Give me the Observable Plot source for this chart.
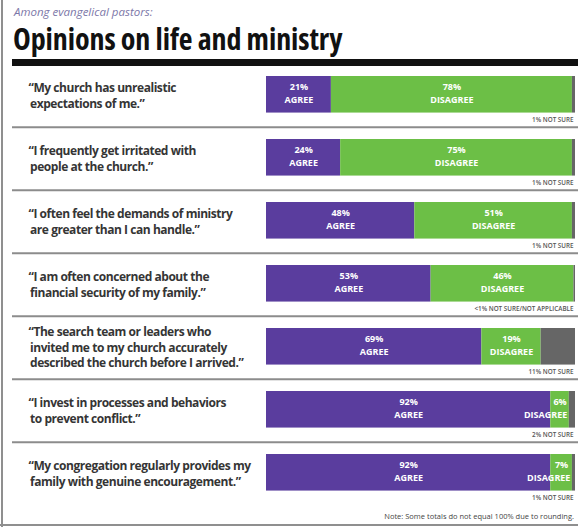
<!DOCTYPE html>
<html>
<head>
<meta charset="utf-8">
<script src="https://cdn.jsdelivr.net/npm/d3@7"></script>
<script src="https://cdn.jsdelivr.net/npm/@observablehq/plot@0.6"></script>
<style>
  html, body { margin: 0; padding: 0; background: #fff; }
  #wrap { position: relative; width: 578px; height: 527px; overflow: hidden; font-family: "Open Sans", sans-serif; }
  #lborder { position: absolute; left: 1px; top: 0; width: 2px; height: 527px; background: #8f8f8f; }
  #bborder { position: absolute; left: 0; top: 524px; width: 578px; height: 2px; background: #8f8f8f; }
  #sub { position: absolute; left: 14px; top: 4px; font-size: 11.5px; font-style: italic; color: #7c77a8; white-space: nowrap; }
  #title { position: absolute; left: 13px; top: 20px; font-size: 30px; font-weight: 700; color: #111; letter-spacing: -0.1px; font-stretch: 80%; white-space: nowrap; line-height: 37px; }
  #rule { position: absolute; left: 12px; top: 59px; width: 566px; height: 7px; background: #111; }
  #chart { position: absolute; left: 0; top: 66px; }
  #foot { position: absolute; right: 4px; top: 511px; font-size: 7.5px; color: #444; white-space: nowrap; }
  .qlab text { letter-spacing: -0.45px; }
</style>
</head>
<body>
<div id="wrap">
  <div id="lborder"></div>
  <div id="sub">Among evangelical pastors:</div>
  <div id="title">Opinions on life and ministry</div>
  <div id="rule"></div>
  <div id="chart"></div>
  <div id="foot">Note: Some totals do not equal 100% due to rounding.</div>
  <div id="bborder"></div>
</div>
<script>
const questions = [
  "\u201CMy church has unrealistic\n\u2009expectations of me.\u201D",
  "\u201CI frequently get irritated with\n\u2009people at the church.\u201D",
  "\u201CI often feel the demands of ministry\n\u2009are greater than I can handle.\u201D",
  "\u201CI am often concerned about the\n\u2009financial security of my family.\u201D",
  "\u201CThe search team or leaders who\n\u2009invited me to my church accurately\n\u2009described the church before I arrived.\u201D",
  "\u201CI invest in processes and behaviors\n\u2009to prevent conflict.\u201D",
  "\u201CMy congregation regularly provides my\n\u2009family with genuine encouragement.\u201D"
];
const agree    = [21, 24, 48, 53, 69, 92, 92];
const disagree = [78, 75, 51, 46, 19, 6, 7];
const notSure  = [1, 1, 1, 0.5, 11, 2, 1];
const notes = ["1% NOT SURE", "1% NOT SURE", "1% NOT SURE", "<1% NOT SURE/NOT APPLICABLE",
               "11% NOT SURE", "2% NOT SURE", "1% NOT SURE"];
const answers = ["AGREE", "DISAGREE", "NOT SURE"];
const colors = ["#5a3d9e", "#6cbf46", "#666666"];

const segs = [];
const labels = [];
questions.forEach((q, i) => {
  const vals = [agree[i], disagree[i], notSure[i]];
  const total = vals[0] + vals[1] + vals[2];
  let cum = 0;
  vals.forEach((v, j) => {
    segs.push({q, answer: answers[j], value: v});
    const start = cum / total, end = (cum + v) / total;
    cum += v;
    if (j < 2) {
      const narrow = v < 10;
      labels.push({
        q, pct: v + "%", word: answers[j],
        mid: (start + end) / 2,
        wx: narrow ? end : (start + end) / 2,
        anchor: narrow ? "end" : "middle"
      });
    }
  });
});
const rows = questions.map((q, i) => ({q, note: notes[i], last: i === questions.length - 1}));

const band = 444 / questions.length;
const barTop = 7, barH = 37;
const cdy = barTop + barH / 2 - band / 2;

const chart = Plot.plot({
  width: 578,
  height: 446,
  marginLeft: 12,
  marginRight: 0,
  marginTop: 1,
  marginBottom: 1,
  x: {domain: [0, 1], range: [266, 575], axis: null},
  y: {domain: questions, range: [1, 445], padding: 0, axis: null},
  color: {domain: answers, range: colors},
  style: {fontFamily: "'Open Sans', sans-serif", background: "transparent"},
  marks: [
    Plot.barX(segs, Plot.stackX({
      offset: "normalize", x: "value", y: "q", fill: "answer", order: answers,
      insetTop: barTop, insetBottom: band - barTop - barH
    })),
    Plot.text(labels, {
      x: "mid", y: "q", text: "pct", dy: cdy - 8, fill: "white",
      fontSize: 9, fontWeight: 700
    }),
    Plot.text(labels.filter(d => d.anchor === "middle"), {
      x: "wx", y: "q", text: "word", dy: cdy + 5, fill: "white",
      textAnchor: "middle", fontSize: 9, fontWeight: 700
    }),
    Plot.text(labels.filter(d => d.anchor === "end"), {
      x: "wx", y: "q", text: "word", dy: cdy + 5, dx: -2, fill: "white",
      textAnchor: "end", fontSize: 9, fontWeight: 700
    }),
    Plot.text(rows, {
      x: 1, y: "q", text: "note", dy: barTop + barH + 7 - band / 2, dx: -2,
      textAnchor: "end", fontSize: 6.3, fontWeight: 600, fill: "#555"
    }),
    Plot.text(rows, {
      y: "q", text: "q", frameAnchor: "left", dx: 16, dy: cdy,
      textAnchor: "start", lineAnchor: "middle", lineHeight: 1.3,
      fontSize: 12, fontWeight: 700, fill: "#353535", className: "qlab"
    }),
    Plot.ruleY(rows.filter(d => !d.last), {
      y: "q", dy: barTop + 51 - band / 2, stroke: "#8c8c8c", strokeWidth: 2
    })
  ]
});
document.getElementById("chart").appendChild(chart);
</script>
</body>
</html>
